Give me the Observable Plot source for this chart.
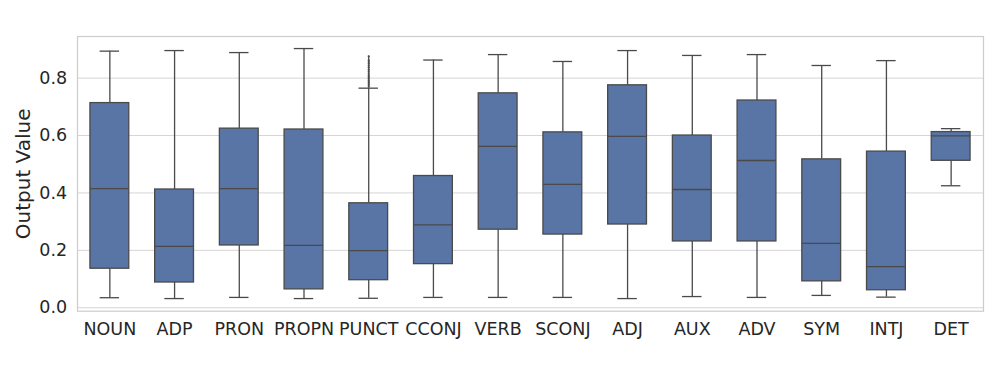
<!DOCTYPE html>
<html>
<head>
<meta charset="utf-8">
<script src="https://cdn.jsdelivr.net/npm/d3@7"></script>
<script src="https://cdn.jsdelivr.net/npm/@observablehq/plot@0.6"></script>
<style>
  html, body { margin: 0; padding: 0; background: #fff; }
  #chart { width: 997px; height: 369px; }
</style>
</head>
<body>
<div id="chart"></div>
<script>
const categories = ["NOUN","ADP","PRON","PROPN","PUNCT","CCONJ","VERB","SCONJ","ADJ","AUX","ADV","SYM","INTJ","DET"];
const whiskerLow  = [0.035,0.032,0.036,0.032,0.033,0.036,0.036,0.036,0.032,0.039,0.036,0.043,0.037,0.425];
const q1          = [0.136,0.088,0.217,0.064,0.096,0.152,0.272,0.255,0.290,0.231,0.231,0.092,0.061,0.512];
const median      = [0.415,0.214,0.415,0.217,0.199,0.289,0.562,0.430,0.597,0.412,0.513,0.224,0.143,0.599];
const q3          = [0.713,0.412,0.624,0.621,0.364,0.459,0.747,0.611,0.775,0.600,0.722,0.517,0.544,0.612];
const whiskerHigh = [0.894,0.896,0.889,0.903,0.765,0.863,0.882,0.858,0.896,0.879,0.882,0.844,0.861,0.624];
const flierCategory = "PUNCT";
const flierValues = [0.876,0.862,0.856,0.850,0.843,0.837,0.830,0.824,0.817,0.810,0.804,0.798,0.791,0.785,0.779,0.772];
const yTicks = [0.0,0.2,0.4,0.6,0.8];
const yLabel = "Output Value";

const rows = categories.map((c, i) => ({
  cat: c, lo: whiskerLow[i], q1: q1[i], med: median[i], q3: q3[i], hi: whiskerHigh[i]
}));
const fliers = flierValues.map(v => ({cat: flierCategory, v}));
const flierTop = d3.max(flierValues);
const flierWhiskerTop = whiskerHigh[categories.indexOf(flierCategory)];

const edge = "#4a4a4a";
const fill = "#5875a6";
const grid = "#d5d5d5";

const chart = Plot.plot({
  width: 997,
  height: 369,
  marginLeft: 77,
  marginRight: 14,
  marginTop: 36,
  marginBottom: 58.3,
  style: {fontFamily: "DejaVu Sans", fontSize: "17.5px", color: "#262626", background: "#fff"},
  x: {domain: categories, paddingInner: 0.4, paddingOuter: 0.2, round: false, label: null},
  y: {domain: [-0.012, 0.945], label: null},
  marks: [
    Plot.ruleY(yTicks, {stroke: grid, strokeWidth: 1}),
    Plot.frame({stroke: "#cccccc", strokeWidth: 1.2}),
    Plot.ruleX(rows, {x: "cat", y1: "lo", y2: "q1", stroke: edge, strokeWidth: 1.3}),
    Plot.ruleX(rows, {x: "cat", y1: "q3", y2: "hi", stroke: edge, strokeWidth: 1.3}),
    Plot.tickY(rows, {x: "cat", y: "lo", stroke: edge, strokeWidth: 1.3, insetLeft: 9.7, insetRight: 9.7}),
    Plot.tickY(rows, {x: "cat", y: "hi", stroke: edge, strokeWidth: 1.3, insetLeft: 9.7, insetRight: 9.7}),
    Plot.barY(rows, {x: "cat", y1: "q1", y2: "q3", fill: fill, stroke: edge, strokeWidth: 1.3}),
    Plot.tickY(rows, {x: "cat", y: "med", stroke: edge, strokeWidth: 1.3}),
    Plot.ruleX([{cat: flierCategory, a: flierWhiskerTop, b: flierTop}], {x: "cat", y1: "a", y2: "b", stroke: edge, strokeWidth: 1.3}),
    Plot.dot(fliers, {x: "cat", y: "v", r: 1.1, fill: edge, stroke: null}),
    Plot.axisX({tickSize: 0, tickPadding: 11, fontSize: "17.5px", fontFamily: "DejaVu Sans"}),
    Plot.axisY({ticks: yTicks, tickSize: 0, tickPadding: 10.3, tickFormat: d3.format(".1f"), label: null, fontSize: "17.5px", fontFamily: "DejaVu Sans"}),
    Plot.text([yLabel], {frameAnchor: "left", textAnchor: "middle", dx: -53.5, rotate: -90, text: d => d, fontSize: "20px", fontFamily: "DejaVu Sans", fill: "#262626"})
  ]
});
document.getElementById("chart").appendChild(chart);
</script>
</body>
</html>
